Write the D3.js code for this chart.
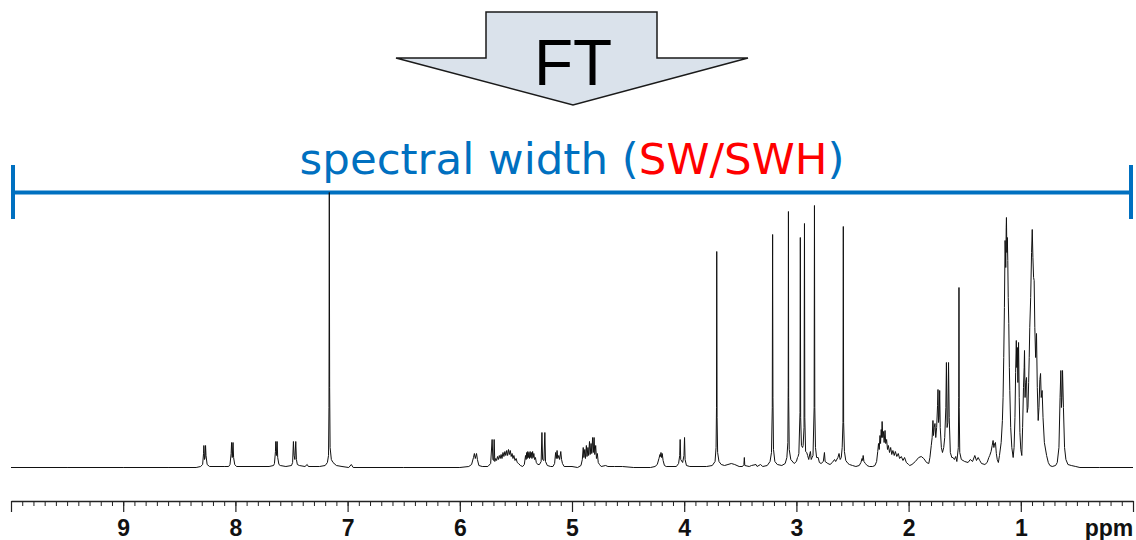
<!DOCTYPE html>
<html>
<head>
<meta charset="utf-8">
<script src="https://cdn.jsdelivr.net/npm/d3@7"></script>
<style>
  body { margin: 0; background: #fff; }
  svg { display: block; }
</style>
</head>
<body>
<svg id="chart" width="1136" height="540"></svg>
<script>
// ppm range of the spectrum (reversed NMR axis)
const ppmRange = [10, 0];
const majorTicks = [10, 9, 8, 7, 6, 5, 4, 3, 2, 1, 0];
const tickLabels = ["", "9", "8", "7", "6", "5", "4", "3", "2", "1", ""];
const axisUnit = "ppm";

const titleParts = [
  { text: "spectral width (", color: "#0070C0" },
  { text: "SW/SWH", color: "#FF0000" },
  { text: ")", color: "#0070C0" }
];
const arrowLabel = "FT";

// spectrum trace: [ppm, intensity]
const spectrum = [
  [10.00,0],[9.50,0],[9.00,0],[8.60,0],[8.35,0],
  [8.31,1],[8.292,3],[8.284,14],[8.281,22],[8.275,8],[8.270,10],[8.266,22],[8.262,12],[8.252,3],[8.23,1],
  [8.10,1],[8.06,1],
  [8.048,3],[8.038,14],[8.034,25],[8.028,10],[8.021,25],[8.016,10],[8.006,3],[7.99,1],
  [7.70,1],[7.66,2],
  [7.652,4],[7.643,16],[7.640,26],[7.634,12],[7.628,26],[7.623,10],[7.612,3],[7.60,2],[7.55,1],
  [7.50,2],[7.490,5],[7.483,26],[7.477,12],[7.470,8],[7.462,26],[7.456,8],[7.448,3],[7.43,2],
  [7.38,1],[7.360,3],[7.35,1],
  [7.25,1],[7.20,2],[7.180,5],[7.170,12],[7.166,60],[7.163,275],[7.160,80],[7.156,20],[7.145,8],[7.13,5],[7.10,2],[7.05,1],
  [6.99,0],[6.967,3],[6.95,0],
  [6.50,0],[6.00,0],[5.92,1],
  [5.895,3],[5.878,10],[5.870,14],[5.862,9],[5.851,14],[5.843,8],[5.83,2],[5.80,1],[5.75,1],
  [5.725,4],[5.712,28],[5.705,8],[5.698,7],[5.694,28],[5.688,6],
  [5.680,9],[5.672,7],[5.664,11],[5.656,8],[5.648,12],[5.640,9],[5.632,13],[5.624,9],[5.615,15],[5.607,11],
  [5.598,16],[5.590,12],[5.582,17],[5.574,12],[5.566,18],[5.558,13],[5.550,17],[5.542,11],[5.534,14],[5.526,9],
  [5.518,12],[5.508,7],[5.498,9],[5.488,5],[5.476,4],[5.46,2],[5.44,1],
  [5.425,3],[5.414,12],[5.409,8],[5.404,15],[5.399,9],[5.394,16],[5.389,10],[5.384,15],[5.379,9],[5.373,16],
  [5.368,10],[5.362,15],[5.357,9],[5.351,16],[5.346,10],[5.340,14],[5.334,8],[5.326,10],[5.318,5],[5.305,3],[5.29,3],
  [5.275,6],[5.268,35],[5.262,8],[5.250,7],[5.242,35],[5.236,6],[5.22,2],[5.19,1],[5.17,1],
  [5.155,4],[5.146,15],[5.140,9],[5.133,17],[5.127,9],[5.118,12],[5.110,8],[5.100,16],[5.093,8],[5.085,4],[5.07,1],
  [5.00,1],[4.95,0],
  [4.92,2],[4.908,8],[4.900,20],[4.894,10],[4.886,18],[4.880,9],[4.872,22],[4.866,11],[4.858,20],[4.852,12],
  [4.844,26],[4.838,13],[4.830,24],[4.824,14],[4.816,30],[4.810,15],[4.803,30],[4.797,13],[4.789,22],[4.782,9],
  [4.774,14],[4.766,5],[4.755,3],[4.74,1],
  [4.70,2],[4.68,1],[4.62,1],[4.55,1],[4.45,0],[4.30,0],[4.26,1],
  [4.24,3],[4.225,9],[4.216,13],[4.212,11],[4.207,15],[4.202,10],[4.196,14],[4.188,7],[4.176,2],[4.16,1],
  [4.07,1],[4.050,4],[4.040,12],[4.036,28],[4.031,8],[4.014,5],[4.002,12],[3.997,30],[3.992,8],[3.980,2],[3.95,1],
  [3.80,1],[3.75,2],[3.725,6],[3.716,20],[3.712,60],[3.710,216],[3.707,50],[3.702,15],[3.690,6],[3.67,3],[3.64,2],
  [3.61,3],[3.58,4],[3.55,3],[3.51,1],[3.48,1],[3.468,3],[3.464,10],[3.460,2],[3.42,1],[3.40,2],[3.36,3],[3.35,1],
  [3.32,3],[3.30,1],[3.26,2],
  [3.235,6],[3.222,15],[3.215,60],[3.212,233],[3.209,70],[3.204,18],[3.192,6],[3.17,3],[3.13,2],[3.10,4],
  [3.085,10],[3.076,25],[3.073,80],[3.071,256],[3.069,70],[3.064,18],[3.050,8],[3.02,4],[3.00,6],
  [2.990,10],[2.985,11],[2.978,14],[2.968,55],[2.965,230],[2.962,50],[2.955,22],[2.945,20],[2.940,22],[2.932,40],
  [2.928,244],[2.925,50],[2.918,16],[2.908,15],[2.900,12],[2.890,8],[2.880,14],[2.875,16],[2.868,8],[2.860,10],[2.852,12],
  [2.842,60],[2.839,262],[2.836,60],[2.830,20],[2.820,10],[2.806,10],[2.795,5],[2.780,4],[2.760,6],[2.750,15],
  [2.744,6],[2.720,4],[2.700,3],[2.680,5],[2.660,8],[2.650,6],[2.630,10],[2.620,14],[2.610,8],[2.600,10],
  [2.592,20],[2.585,45],[2.582,241],[2.579,45],[2.572,16],[2.560,7],[2.540,4],[2.527,3],[2.50,2],[2.47,1],
  [2.44,2],[2.425,5],[2.415,9],[2.410,7],[2.405,12],[2.398,6],[2.385,4],[2.37,2],[2.35,1],[2.32,1],[2.30,2],
  [2.285,6],[2.275,16],[2.268,24],[2.262,18],[2.255,32],[2.250,24],[2.244,38],[2.240,30],[2.236,46],[2.230,30],
  [2.224,36],[2.218,25],[2.210,37],[2.204,24],[2.196,28],[2.188,18],[2.180,22],[2.170,15],[2.160,20],[2.150,13],
  [2.140,17],[2.128,12],[2.118,16],[2.105,11],[2.092,14],[2.080,9],[2.065,11],[2.050,7],[2.036,10],[2.02,5],[2.00,3],[1.99,2],
  [1.97,3],[1.94,6],[1.91,10],[1.887,11],[1.865,9],[1.84,5],[1.82,4],
  [1.81,10],[1.798,22],[1.790,30],[1.783,47],[1.778,32],[1.772,40],[1.765,44],[1.758,30],[1.750,40],[1.742,62],
  [1.738,78],[1.733,45],[1.728,50],[1.723,77],[1.718,40],[1.708,20],[1.698,15],[1.687,20],[1.678,30],
  [1.668,60],[1.663,105],[1.657,40],[1.650,45],[1.644,105],[1.638,50],[1.628,15],[1.615,10],[1.604,10],[1.592,8],[1.580,11],[1.570,6],
  [1.557,20],[1.553,70],[1.551,180],[1.549,60],[1.544,15],[1.530,8],[1.515,7],[1.50,6],[1.47,5],[1.45,8],[1.43,6],
  [1.41,12],[1.395,7],[1.38,10],[1.366,7],[1.35,4],[1.32,3],[1.30,5],
  [1.285,10],[1.277,12],[1.265,16],[1.255,22],[1.247,27],[1.240,20],[1.233,24],[1.226,25],[1.218,14],[1.210,8],[1.200,5],[1.190,12],
  [1.175,25],[1.164,47],[1.158,70],[1.152,110],[1.146,160],[1.140,227],[1.134,200],[1.130,240],[1.128,250],[1.124,215],
  [1.120,230],[1.116,207],[1.112,170],[1.107,144],[1.102,100],[1.098,77],[1.090,40],[1.080,20],[1.068,10],
  [1.060,20],[1.052,50],[1.046,95],[1.040,127],[1.036,100],[1.031,120],[1.026,85],[1.020,125],[1.014,70],[1.008,35],[1.000,18],[0.991,12],
  [0.984,40],[0.976,80],[0.970,100],[0.967,117],[0.962,70],[0.956,85],[0.949,90],[0.943,55],[0.936,60],[0.930,85],
  [0.925,110],[0.920,140],[0.912,170],[0.904,215],[0.898,238],[0.892,210],[0.886,190],[0.881,187],[0.875,140],[0.868,110],
  [0.860,134],[0.853,80],[0.845,47],[0.838,60],[0.830,88],[0.824,94],[0.818,70],[0.810,77],[0.802,50],[0.790,25],
  [0.770,12],[0.755,5],[0.741,2],[0.72,1],
  [0.69,2],[0.675,5],[0.660,20],[0.650,70],[0.643,97],[0.638,60],[0.633,70],[0.628,97],[0.620,60],[0.610,20],
  [0.598,8],[0.58,3],[0.55,2],[0.51,1],[0.473,0],[0.30,0],[0.00,0]
];

const svg = d3.select("#chart");
const width = 1136;
const axisY = 501;

const x = d3.scaleLinear()
  .domain(ppmRange)
  .range([11, 1133]);

const y = d3.scaleLinear()
  .domain([0, 275])
  .range([467.5, 192.5]);

svg.append("rect")
  .attr("width", width)
  .attr("height", 540)
  .attr("fill", "#fff");

// FT arrow
const arrow = [[486, 12], [657, 12], [657, 58], [748, 58], [573, 105], [396, 58], [486, 58]];
svg.append("polygon")
  .attr("points", arrow.map(p => p.join(",")).join(" "))
  .attr("fill", "#DAE2EB")
  .attr("stroke", "#1a1a1a")
  .attr("stroke-width", 1.5)
  .attr("stroke-linejoin", "miter");

svg.append("text")
  .attr("x", 573)
  .attr("y", 85)
  .attr("text-anchor", "middle")
  .attr("font-family", "Liberation Sans, Arial, sans-serif")
  .attr("font-size", "64px")
  .attr("fill", "#000")
  .text(arrowLabel);

// title
const title = svg.append("text")
  .attr("x", 572)
  .attr("y", 174)
  .attr("text-anchor", "middle")
  .attr("font-family", "DejaVu Sans, Verdana, sans-serif")
  .attr("font-size", "43.5px");

title.selectAll("tspan")
  .data(titleParts)
  .enter()
  .append("tspan")
  .attr("fill", d => d.color)
  .text(d => d.text);

// spectral width bracket
const bracket = svg.append("g")
  .attr("stroke", "#0070C0")
  .attr("stroke-width", 4);

bracket.append("line")
  .attr("x1", x(ppmRange[0]))
  .attr("x2", x(ppmRange[1]) - 2)
  .attr("y1", 192.5)
  .attr("y2", 192.5);

bracket.selectAll("line.cap")
  .data(ppmRange)
  .enter()
  .append("line")
  .attr("class", "cap")
  .attr("x1", (d, i) => x(d) + (i === 0 ? 2 : -2))
  .attr("x2", (d, i) => x(d) + (i === 0 ? 2 : -2))
  .attr("y1", 165)
  .attr("y2", 219);

// spectrum
const line = d3.line()
  .x(d => x(d[0]))
  .y(d => y(d[1]));

svg.append("path")
  .datum(spectrum)
  .attr("d", line)
  .attr("fill", "none")
  .attr("stroke", "#111")
  .attr("stroke-width", 1)
  .attr("stroke-linejoin", "miter");

// axis: minor ticks
const minorAxis = d3.axisBottom(x)
  .tickValues(x.ticks(100))
  .tickSize(5)
  .tickFormat("");

svg.append("g")
  .attr("transform", `translate(0,${axisY})`)
  .call(minorAxis)
  .call(g => g.select(".domain").remove())
  .selectAll("line")
  .attr("stroke", "#222");

// axis: major ticks + labels
const majorAxis = d3.axisBottom(x)
  .tickValues(majorTicks)
  .tickSize(11)
  .tickSizeOuter(0)
  .tickPadding(8)
  .tickFormat((d, i) => tickLabels[i]);

const gx = svg.append("g")
  .attr("transform", `translate(0,${axisY})`)
  .call(majorAxis);

gx.select(".domain")
  .attr("stroke", "#222")
  .attr("stroke-width", 1.5);

gx.selectAll("line")
  .attr("stroke", "#222")
  .attr("stroke-width", 1.2);

gx.selectAll("text")
  .attr("font-family", "Liberation Sans, Arial, sans-serif")
  .attr("font-size", "23px")
  .attr("font-weight", "bold")
  .attr("fill", "#111");

svg.append("text")
  .attr("x", 1109)
  .attr("y", 536)
  .attr("text-anchor", "middle")
  .attr("font-family", "Liberation Sans, Arial, sans-serif")
  .attr("font-size", "23px")
  .attr("font-weight", "bold")
  .attr("fill", "#111")
  .text(axisUnit);
</script>
</body>
</html>
